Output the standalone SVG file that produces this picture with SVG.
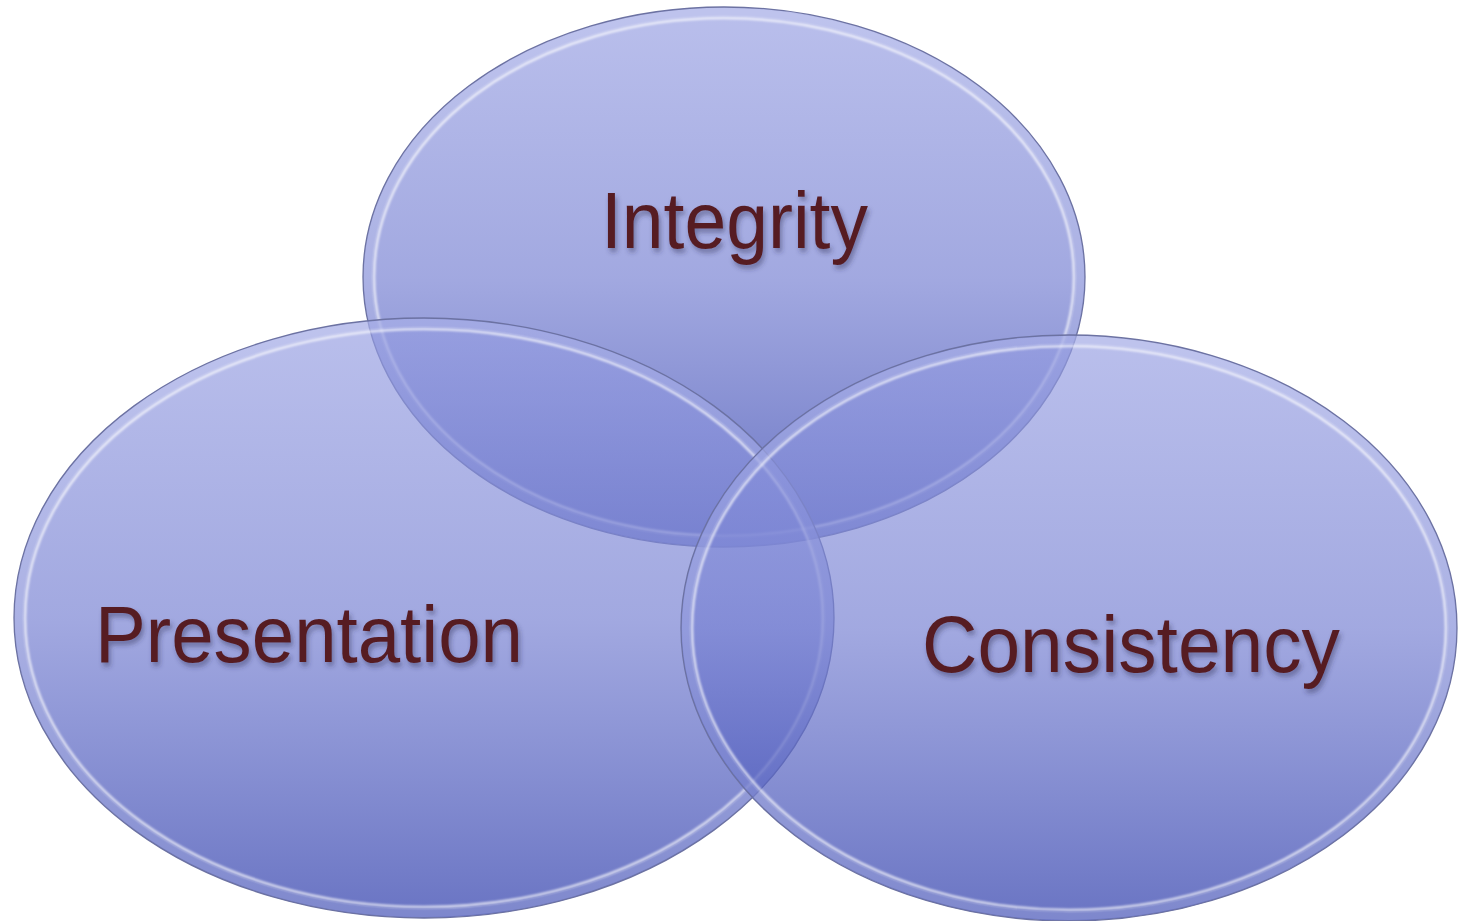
<svg xmlns="http://www.w3.org/2000/svg" width="1458" height="921" viewBox="0 0 1458 921">
<defs>
<linearGradient id="fillG" x1="0" y1="0" x2="0" y2="1">
<stop offset="0" stop-color="#969ee2" stop-opacity="0.66"/>
<stop offset="0.5" stop-color="#7680d2" stop-opacity="0.68"/>
<stop offset="1" stop-color="#3a48b0" stop-opacity="0.76"/>
</linearGradient>
<filter id="blur1" x="-5%" y="-5%" width="110%" height="110%">
<feGaussianBlur stdDeviation="1.3"/>
</filter>
<filter id="tshadow" x="-10%" y="-20%" width="120%" height="150%">
<feDropShadow dx="2" dy="4" stdDeviation="2.5" flood-color="#2a2a55" flood-opacity="0.45"/>
</filter>
</defs>
<style>
.body{fill:url(#fillG);stroke:#6c72a2;stroke-width:1.3}
.band{fill:none;stroke:#d4d8f6;stroke-width:8;stroke-opacity:0.2}
.hl{fill:none;stroke:#ffffff;stroke-width:2.6;stroke-opacity:0.72;filter:url(#blur1)}
.lbl{font-family:"Liberation Sans",Arial,sans-serif;font-size:80px;fill:#561e24;filter:url(#tshadow)}
</style>
<rect width="1458" height="921" fill="#ffffff"/>
<g id="node-integrity">
<ellipse class="body" cx="724" cy="277" rx="361" ry="270"/>
<ellipse class="band" cx="724" cy="277" rx="356" ry="265"/>
<ellipse class="hl" cx="724" cy="277" rx="350" ry="259"/>
</g>
<g id="node-presentation">
<ellipse class="body" cx="424" cy="618" rx="410" ry="300"/>
<ellipse class="band" cx="424" cy="618" rx="405" ry="295"/>
<ellipse class="hl" cx="424" cy="618" rx="399" ry="289"/>
</g>
<g id="node-consistency">
<ellipse class="body" cx="1069" cy="628" rx="388" ry="293"/>
<ellipse class="band" cx="1069" cy="628" rx="383" ry="288"/>
<ellipse class="hl" cx="1069" cy="628" rx="377" ry="282"/>
</g>
<g id="connectors"></g>
<g id="labels">
<text class="lbl" x="601" y="248" textLength="267" lengthAdjust="spacingAndGlyphs">Integrity</text>
<text class="lbl" x="95" y="662" textLength="428" lengthAdjust="spacingAndGlyphs">Presentation</text>
<text class="lbl" x="922" y="672" textLength="418" lengthAdjust="spacingAndGlyphs">Consistency</text>
</g>
</svg>
